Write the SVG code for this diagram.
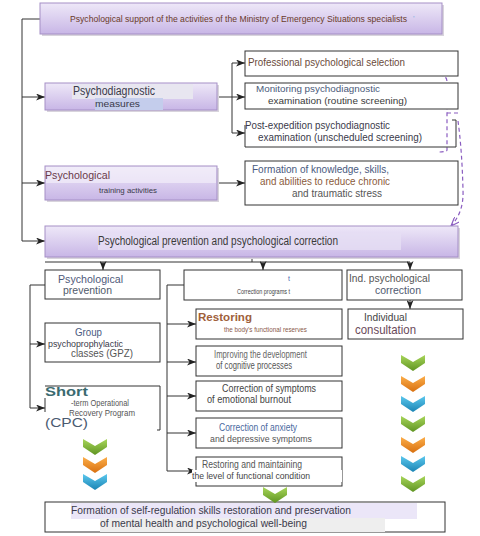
<svg xmlns="http://www.w3.org/2000/svg" width="480" height="536" viewBox="0 0 480 536">
<defs>
<style>
text{font-family:"Liberation Sans",Arial,sans-serif;}
.box{fill:#fff;stroke:#333;stroke-width:1;}
.pbox{fill:url(#pg);stroke:#a58fc6;stroke-width:1;}
.shd{fill:#d8d4dc;}
.ln{fill:none;stroke:#333;stroke-width:1;}
.arr{fill:none;stroke:#333;stroke-width:1;marker-end:url(#ah);}
.dash{fill:none;stroke:#8a5cc0;stroke-width:1.2;stroke-dasharray:4 3;}
</style>
<linearGradient id="pg" x1="0" y1="0" x2="0" y2="1">
<stop offset="0" stop-color="#eee8f8"/><stop offset="1" stop-color="#c8b6e6"/>
</linearGradient>
<linearGradient id="gg" x1="0" y1="0" x2="0" y2="1"><stop offset="0" stop-color="#a8d65a"/><stop offset="1" stop-color="#5f9422"/></linearGradient>
<linearGradient id="og" x1="0" y1="0" x2="0" y2="1"><stop offset="0" stop-color="#fcae4a"/><stop offset="1" stop-color="#d8700f"/></linearGradient>
<linearGradient id="bg" x1="0" y1="0" x2="0" y2="1"><stop offset="0" stop-color="#5cc8ee"/><stop offset="1" stop-color="#1a84b4"/></linearGradient>
<path id="chev" d="M0,0 L12,7 L24,0 L24,8 L12,16 L0,8 Z"/>
<marker id="ah" markerUnits="userSpaceOnUse" markerWidth="9" markerHeight="7" refX="9" refY="3.5" orient="auto">
<path d="M0,0 L9,3.5 L0,7 L2.5,3.5 Z" fill="#222"/>
</marker>
<marker id="ahp" markerUnits="userSpaceOnUse" markerWidth="9" markerHeight="7" refX="9" refY="3.5" orient="auto">
<path d="M0,0 L9,3.5 L0,7" fill="none" stroke="#8a5cc0" stroke-width="1.2"/>
</marker>
</defs>
<rect width="480" height="536" fill="#fff"/>

<g id="connectors">
<path class="ln" d="M40,19 H22 V241"/>
<path class="arr" d="M22,97 H45"/>
<path class="arr" d="M22,183 H45"/>
<path class="arr" d="M22,241 H45"/>
<path class="ln" d="M217,97 H232"/>
<path class="ln" d="M232,63 V133"/>
<path class="arr" d="M232,63 H245"/>
<path class="arr" d="M232,97 H245"/>
<path class="arr" d="M232,133 H245"/>
<path class="arr" d="M217,183 H245"/>
<path class="ln" d="M252,257 V262 M45,262 H410"/>
<path class="arr" d="M103,262 V270"/>
<path class="arr" d="M263,262 V270"/>
<path class="arr" d="M410,262 V270"/>
<path class="arr" d="M410,300 V309"/>
<path class="ln" d="M45,285 H30 V408"/>
<path class="arr" d="M30,344 H45"/>
<path class="arr" d="M30,408 H45"/>
<path class="ln" d="M184,285 H167 V471"/>
<path class="arr" d="M167,324 H196"/>
<path class="arr" d="M167,362 H196"/>
<path class="arr" d="M167,396 H196"/>
<path class="arr" d="M167,433 H196"/>
<path class="arr" d="M167,471 H196"/>
<path class="dash" d="M439,75 Q447,75 447,82 V150 Q447,152 438,152"/>
<path class="dash" d="M447,113 H458"/>
<path class="dash" d="M458,121 Q462,150 463,190 Q464,212 451,226" marker-end="url(#ahp)"/>
</g>

<g id="top">
<rect class="shd" x="42" y="5" width="402" height="31"/>
<rect class="pbox" x="40" y="3" width="402" height="31"/>
<text x="70" y="22" font-size="9.5" fill="#6a3a2a" textLength="337" lengthAdjust="spacingAndGlyphs">Psychological support of the activities of the Ministry of Emergency Situations specialists</text>
<text x="413" y="21" font-size="8" fill="#7ab0e0">'</text>
</g>

<g id="psychodiagnostic">
<rect class="shd" x="47" y="85" width="172" height="27"/>
<rect class="pbox" x="45" y="83" width="172" height="27"/>
<rect x="72" y="84" width="121" height="15" fill="#e8e6f0"/>
<rect x="95" y="98" width="68" height="12" fill="#c4cdec"/>
<text x="73" y="95" font-size="12" fill="#3a3a4a" textLength="82" lengthAdjust="spacingAndGlyphs">Psychodiagnostic</text>
<text x="95" y="107" font-size="9.5" fill="#3a3a4a" textLength="45" lengthAdjust="spacingAndGlyphs">measures</text>
</g>

<g id="selection">
<rect class="box" x="245" y="51" width="213" height="25"/>
<text x="248" y="66" font-size="10.5" fill="#6a4a3a" textLength="157" lengthAdjust="spacingAndGlyphs">Professional psychological selection</text>
</g>

<g id="monitoring">
<rect class="box" x="245" y="83" width="213" height="26"/>
<text x="256" y="92" font-size="9.5" fill="#4a5a7a" textLength="124" lengthAdjust="spacingAndGlyphs">Monitoring psychodiagnostic</text>
<text x="268" y="104" font-size="9.5" fill="#3a3a3a" textLength="139" lengthAdjust="spacingAndGlyphs">examination (routine screening)</text>
</g>

<g id="post-expedition">
<path class="ln" d="M245,125 V147 H456 V120 H452"/>
<text x="245" y="129" font-size="10.5" fill="#3a3a4a" textLength="145" lengthAdjust="spacingAndGlyphs">Post-expedition psychodiagnostic</text>
<text x="258" y="141" font-size="10" fill="#3a3a4a" textLength="164" lengthAdjust="spacingAndGlyphs">examination (unscheduled screening)</text>
</g>

<g id="training">
<rect class="shd" x="47" y="168" width="172" height="34"/>
<rect class="pbox" x="45" y="166" width="172" height="34"/>
<rect x="46" y="167" width="170" height="16" fill="#f2eef9" opacity="0.7"/>
<text x="45" y="179" font-size="11.5" fill="#6a3a4a" textLength="65" lengthAdjust="spacingAndGlyphs">Psychological</text>
<text x="99" y="193" font-size="8" fill="#3a3a4a" textLength="58" lengthAdjust="spacingAndGlyphs">training activities</text>
</g>

<g id="knowledge">
<rect class="box" x="245" y="161" width="213" height="44"/>
<text x="252" y="173" font-size="10" fill="#4a5a80" textLength="137" lengthAdjust="spacingAndGlyphs">Formation of knowledge, skills,</text>
<text x="260" y="185" font-size="10" fill="#8a5a3a" textLength="130" lengthAdjust="spacingAndGlyphs">and abilities to reduce chronic</text>
<text x="292" y="197" font-size="10.5" fill="#555" textLength="90" lengthAdjust="spacingAndGlyphs">and traumatic stress</text>
</g>

<g id="prevention-correction">
<rect class="shd" x="47" y="228" width="413" height="31"/>
<rect class="pbox" x="45" y="226" width="413" height="31"/>
<rect x="98" y="233" width="303" height="17" fill="#e6def4" opacity="0.8"/>
<text x="98" y="245" font-size="12" fill="#3a3a3a" textLength="240" lengthAdjust="spacingAndGlyphs">Psychological prevention and psychological correction</text>
</g>

<g id="prevention">
<rect class="box" x="45" y="270" width="115" height="29"/>
<text x="58" y="283" font-size="11.5" fill="#505a7a" textLength="65" lengthAdjust="spacingAndGlyphs">Psychological</text>
<text x="63" y="294" font-size="10" fill="#505a6a" textLength="49" lengthAdjust="spacingAndGlyphs">prevention</text>
</g>

<g id="correction-programs">
<rect class="box" x="184" y="270" width="158" height="30"/>
<text x="288" y="281" font-size="7" fill="#4a6ab0">t</text>
<text x="237" y="294" font-size="7" fill="#444" textLength="53" lengthAdjust="spacingAndGlyphs">Correction programs t</text>
</g>

<g id="ind-correction">
<rect class="box" x="347" y="270" width="115" height="30"/>
<text x="349" y="282" font-size="10" fill="#555" textLength="81" lengthAdjust="spacingAndGlyphs">Ind. psychological</text>
<text x="375" y="294" font-size="10.5" fill="#505a70" textLength="46" lengthAdjust="spacingAndGlyphs">correction</text>
</g>

<g id="consultation">
<rect class="box" x="348" y="309" width="115" height="30"/>
<text x="364" y="321" font-size="10.5" fill="#444" textLength="43" lengthAdjust="spacingAndGlyphs">Individual</text>
<text x="355" y="334" font-size="13" fill="#6a4a5a" textLength="61" lengthAdjust="spacingAndGlyphs">consultation</text>
</g>

<g id="gpz">
<rect class="box" x="45" y="323" width="115" height="39"/>
<text x="75" y="336" font-size="11" fill="#4a5a80" textLength="27" lengthAdjust="spacingAndGlyphs">Group</text>
<text x="48" y="347" font-size="9.5" fill="#3a3a4a" textLength="75" lengthAdjust="spacingAndGlyphs">psychoprophylactic</text>
<text x="71" y="357" font-size="10" fill="#555" textLength="62" lengthAdjust="spacingAndGlyphs">classes (GPZ)</text>
</g>

<g id="short-program">
<path class="ln" d="M45,386 H160 V430 H157"/>
<path class="ln" d="M45,398 V412"/>
<text x="45" y="396" font-size="12" font-weight="bold" fill="#3a6a70" textLength="43" lengthAdjust="spacingAndGlyphs">Short</text>
<text x="71" y="406" font-size="8.5" fill="#555" textLength="58" lengthAdjust="spacingAndGlyphs">-term Operational</text>
<text x="69" y="416" font-size="8.5" fill="#555" textLength="66" lengthAdjust="spacingAndGlyphs">Recovery Program</text>
<text x="45" y="427" font-size="12" fill="#4a5a70" textLength="43" lengthAdjust="spacingAndGlyphs">(CPC)</text>
</g>

<g id="restoring-reserves">
<rect class="box" x="196" y="309" width="146" height="30"/>
<text x="198" y="321" font-size="11" font-weight="bold" fill="#a0603a" textLength="54" lengthAdjust="spacingAndGlyphs">Restoring</text>
<text x="224" y="332" font-size="8" fill="#8a5a4a" textLength="83" lengthAdjust="spacingAndGlyphs">the body's functional reserves</text>
</g>

<g id="cognitive">
<rect class="box" x="196" y="346" width="146" height="30"/>
<text x="214" y="358" font-size="10" fill="#666" textLength="93" lengthAdjust="spacingAndGlyphs">Improving the development</text>
<text x="216" y="369" font-size="10" fill="#555" textLength="76" lengthAdjust="spacingAndGlyphs">of cognitive processes</text>
</g>

<g id="burnout">
<rect class="box" x="196" y="381" width="146" height="30"/>
<text x="222" y="392" font-size="10.5" fill="#444" textLength="94" lengthAdjust="spacingAndGlyphs">Correction of symptoms</text>
<text x="207" y="403" font-size="10.5" fill="#444" textLength="84" lengthAdjust="spacingAndGlyphs">of emotional burnout</text>
</g>

<g id="anxiety">
<rect class="box" x="196" y="418" width="146" height="30"/>
<text x="219" y="431" font-size="10" fill="#4a6aa0" textLength="78" lengthAdjust="spacingAndGlyphs">Correction of anxiety</text>
<text x="210" y="442" font-size="9.5" fill="#555" textLength="102" lengthAdjust="spacingAndGlyphs">and depressive symptoms</text>
</g>

<g id="functional-condition">
<rect class="box" x="196" y="457" width="146" height="29"/>
<rect x="192" y="470" width="150" height="12" fill="#fff"/>
<text x="202" y="468" font-size="10" fill="#555" textLength="100" lengthAdjust="spacingAndGlyphs">Restoring and maintaining</text>
<text x="192" y="479" font-size="9.5" fill="#444" textLength="118" lengthAdjust="spacingAndGlyphs">the level of functional condition</text>
</g>

<g id="result">
<rect class="box" x="45" y="502" width="400" height="30"/>
<rect x="71" y="503" width="346" height="16" fill="#ebe6f8"/>
<rect x="100" y="518" width="285" height="14" fill="#eeeeee"/>
<text x="71" y="514" font-size="11" fill="#3a3a4a" textLength="280" lengthAdjust="spacingAndGlyphs">Formation of self-regulation skills restoration and preservation</text>
<text x="100" y="527" font-size="11" fill="#3a3a4a" textLength="207" lengthAdjust="spacingAndGlyphs">of mental health and psychological well-being</text>
</g>

<g id="chevrons">
<use href="#chev" x="83" y="439" fill="url(#gg)"/>
<use href="#chev" x="83" y="457" fill="url(#og)"/>
<use href="#chev" x="83" y="474" fill="url(#bg)"/>
<use href="#chev" x="263" y="487" fill="url(#gg)"/>
<use href="#chev" x="401" y="355" fill="url(#gg)"/>
<use href="#chev" x="401" y="376" fill="url(#og)"/>
<use href="#chev" x="401" y="396" fill="url(#bg)"/>
<use href="#chev" x="401" y="416" fill="url(#gg)"/>
<use href="#chev" x="401" y="437" fill="url(#og)"/>
<use href="#chev" x="401" y="456" fill="url(#bg)"/>
<use href="#chev" x="401" y="476" fill="url(#gg)"/>
</g>
</svg>
